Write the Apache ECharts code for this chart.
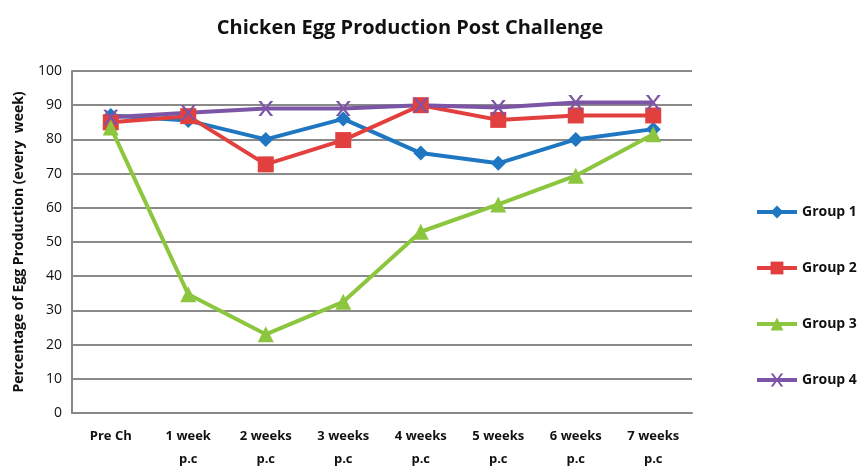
<!DOCTYPE html>
<html>
<head>
<meta charset="utf-8">
<script src="https://cdn.jsdelivr.net/npm/echarts@6/dist/echarts.min.js"></script>
<style>
  html, body { margin: 0; padding: 0; background: #fff; }
  #chart { width: 861px; height: 469px; }
</style>
</head>
<body>
<div id="chart"></div>
<script>
  // data
  var categories = ['Pre Ch', '1 week\np.c', '2 weeks\np.c', '3 weeks\np.c', '4 weeks\np.c', '5 weeks\np.c', '6 weeks\np.c', '7 weeks\np.c'];
  var group1 = [87, 85.5, 80, 86, 76, 73, 80, 83];
  var group2 = [85, 86.8, 72.7, 79.8, 90, 85.7, 87, 87];
  var group3 = [83.5, 34.7, 23, 32.5, 53, 61, 69.4, 81.5];
  var group4 = [86.5, 87.8, 89, 89, 90, 89.3, 90.8, 90.8];
  var yTicks = [0, 10, 20, 30, 40, 50, 60, 70, 80, 90, 100];

  var chart = echarts.init(document.getElementById('chart'));
  var font = '"Open Sans", "Liberation Sans", sans-serif';

  function line(name, data, color, symbol, size) {
    return {
      name: name,
      type: 'line',
      data: data,
      symbol: symbol,
      symbolSize: size,
      showAllSymbol: true,
      lineStyle: { color: color, width: 4 },
      itemStyle: { color: color },
      emphasis: { disabled: true }
    };
  }

  var option = {
    animation: false,
    title: {
      text: 'Chicken Egg Production Post Challenge',
      left: 405,
      textAlign: 'center',
      top: 13,
      textStyle: { fontFamily: font, fontWeight: 'bold', fontSize: 20, color: '#111' }
    },
    legend: {
      orient: 'vertical',
      left: 750,
      top: 200,
      itemGap: 42,
      itemWidth: 40,
      itemHeight: 16,
      lineStyle: { width: 4 },
      textStyle: { fontFamily: font, fontWeight: 'bold', fontSize: 14, color: '#111' },
      data: ['Group 1', 'Group 2', 'Group 3', 'Group 4']
    },
    grid: { left: 72, right: 169, top: 71, bottom: 56, outerBoundsMode: 'none' },
    xAxis: {
      type: 'category',
      data: categories,
      boundaryGap: true,
      axisLine: { lineStyle: { color: '#888', width: 2 } },
      axisTick: { show: false },
      axisLabel: {
        fontFamily: font, fontWeight: 'bold', fontSize: 13, color: '#111',
        margin: 12, lineHeight: 23, interval: 0
      }
    },
    yAxis: {
      type: 'value',
      min: yTicks[0],
      max: yTicks[yTicks.length - 1],
      interval: 10,
      name: 'Percentage of Egg Production (every  week)',
      nameLocation: 'middle',
      nameGap: 46,
      nameTextStyle: { fontFamily: font, fontWeight: 'bold', fontSize: 14, color: '#111' },
      axisLine: { show: true, lineStyle: { color: '#888', width: 2 } },
      axisTick: { show: false },
      splitLine: { lineStyle: { color: '#8a8a8a', width: 2 } },
      axisLabel: { fontFamily: font, fontSize: 14, color: '#111', margin: 10 }
    },
    series: [
      line('Group 1', group1, '#1f77c2', 'diamond', 15),
      line('Group 2', group2, '#e2403f', 'rect', 16),
      line('Group 3', group3, '#8cc63f', 'triangle', 16),
      line('Group 4', group4, '#7d55a6', 'path://M0,0L2,0L5,4L8,0L10,0L6,5L10,10L8,10L5,6L2,10L0,10L4,5Z', 15)
    ]
  };

  chart.setOption(option);
</script>
</body>
</html>
